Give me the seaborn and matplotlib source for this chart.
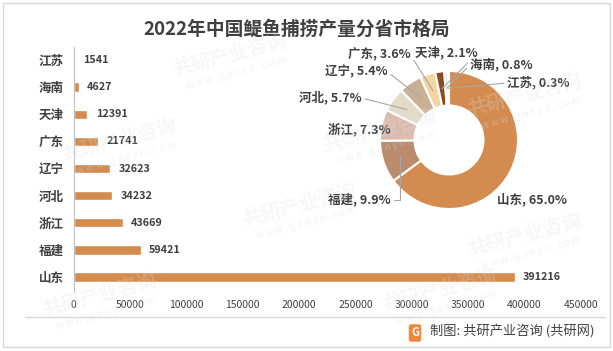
import numpy as np
import pandas as pd
import matplotlib
matplotlib.use('Agg')
import matplotlib.pyplot as plt
import seaborn as sns
from matplotlib.patches import Rectangle
from matplotlib.lines import Line2D

# Data
provinces = ['江苏', '海南', '天津', '广东', '辽宁', '河北', '浙江', '福建', '山东']
output = [1541, 4627, 12391, 21741, 32623, 34232, 43669, 59421, 391216]

# pie is drawn clockwise from the top starting with 山东
pie_names = ['山东', '福建', '浙江', '河北', '辽宁', '广东', '天津', '海南', '江苏']
pie_shares = [65.0, 9.9, 7.3, 5.7, 5.4, 3.6, 2.1, 0.8, 0.3]
pie_colors = ['#D48B4F', '#BA8B6C', '#DBBBAE', '#E4DCC8', '#C8B094',
              '#F6D6A0', '#8C4A21', '#EFE3D3', '#C9A07C']

x_ticks = [0, 50000, 100000, 150000, 200000, 250000, 300000, 350000, 400000, 450000]

sns.set_theme(style='white')
plt.rcParams['font.family'] = ['Noto Sans CJK SC', 'DejaVu Sans']
plt.rcParams['axes.unicode_minus'] = False

text_color = '#404040'
W, H = 613, 351
fig = plt.figure(figsize=(W / 100, H / 100), dpi=100)
fig.patch.set_facecolor('white')


def px(x, y):
    # image pixel (top-left origin) -> figure fraction
    return x / W, 1 - y / H


# --- bar chart ---
ax = fig.add_axes([73.5 / W, 1 - 290.5 / H, (581 - 73.5) / W, (290.5 - 46.5) / H])
df = pd.DataFrame({'province': provinces, 'output': output})
sns.barplot(data=df, x='output', y='province', orient='h', color='#D48B4E',
            width=0.35, saturation=1, ax=ax)
ax.set_xlim(0, 450000)
ax.set_ylim(8.5, -0.5)
ax.set_xticks(x_ticks)
ax.set_xticklabels([str(t) for t in x_ticks], fontsize=7.5, color=text_color)
ax.set_xlabel('')
ax.set_ylabel('')
for lab in ax.get_yticklabels():
    lab.set_fontsize(9)
    lab.set_fontweight('bold')
    lab.set_color(text_color)
ax.tick_params(axis='both', length=0)
ax.tick_params(axis='x', pad=7)
ax.tick_params(axis='y', pad=7)
for side in ['top', 'right', 'bottom']:
    ax.spines[side].set_visible(False)
ax.spines['left'].set_color('#BFBFBF')
ax.spines['left'].set_linewidth(0.8)
ax.patch.set_alpha(0)
for i, v in enumerate(output):
    ax.annotate(str(v), (v, i), xytext=(6, 0), textcoords='offset points',
                va='center', ha='left', fontsize=7.8, fontweight='bold',
                color=text_color)

# --- donut chart ---
cx, cy, r = 449, 140, 69
size = 2.5 * r
pax = fig.add_axes([(cx - size / 2) / W, 1 - (cy + size / 2) / H, size / W, size / H])
wedges, _ = pax.pie(pie_shares, colors=pie_colors, startangle=90, counterclock=False,
                    wedgeprops=dict(width=0.5, edgecolor='white', linewidth=1.5))
pax.set_xlim(-1.25, 1.25)
pax.set_ylim(-1.25, 1.25)
pax.set_aspect('equal')

# label left edge x and center y, in image pixels
label_pos = {
    '山东': (497, 200), '福建': (328, 200), '浙江': (328, 129),
    '河北': (299, 98), '辽宁': (325, 72), '广东': (348, 55),
    '天津': (415, 53), '海南': (470, 65), '江苏': (507, 83),
}
no_line = ['山东', '浙江']
for w, name, share in zip(wedges, pie_names, pie_shares):
    ang = np.deg2rad((w.theta1 + w.theta2) / 2)
    pt = (0.75 * np.cos(ang), 0.75 * np.sin(ang))
    lx, ly = label_pos[name]
    label = f'{name}, {share:.1f}%'
    if name in no_line:
        fig.text(*px(lx, ly), label, ha='left', va='center', fontsize=9,
                 fontweight='bold', color=text_color)
        continue
    side_right = lx > cx
    if name == '福建':
        conn = 'angle,angleA=0,angleB=90,rad=0'
    else:
        conn = 'arc3'
    pax.annotate(label, xy=pt, xycoords='data',
                 xytext=px(lx, ly), textcoords='figure fraction',
                 ha='left', va='center', fontsize=9, fontweight='bold',
                 color=text_color, annotation_clip=False,
                 arrowprops=dict(arrowstyle='-', color='#A6A6A6', lw=0.8,
                                 shrinkA=0, shrinkB=0, connectionstyle=conn,
                                 relpos=(0, 0.5) if side_right else (1, 0.5)))

# --- title ---
fig.text(*px(296.5, 29), '2022年中国鳀鱼捕捞产量分省市格局', ha='center', va='center',
         fontsize=13.5, fontweight='bold', color=text_color)

# --- faint watermarks ---
for wx, wy in [(230, 55), (120, 140), (300, 205), (440, 290), (525, 95),
               (525, 235), (100, 295), (380, 130)]:
    fig.text(*px(wx, wy), '共研产业咨询', ha='center', va='center', fontsize=14,
             fontweight='bold', color='#E0E0E0', alpha=0.25, rotation=15, zorder=10)
    fig.text(*px(wx + 6, wy + 18), 'w w w . g o n y n . c o m', ha='center',
             va='center', fontsize=7, color='#E0E0E0', alpha=0.35, rotation=15, zorder=10)

# --- footer ---
fig.add_artist(Line2D([25 / W, 605 / W], [1 - 317 / H, 1 - 317 / H],
                      color='#D9D9D9', lw=1))
fig.text(*px(415, 333), 'G', ha='center', va='center', fontsize=8, fontweight='bold',
         color='white', bbox=dict(boxstyle='round,pad=0.2', fc='#F0883A', ec='none'))
fig.text(*px(430, 332), '制图: 共研产业咨询 (共研网)', ha='left', va='center',
         fontsize=9.5, color=text_color)

# frame around the whole picture
fig.add_artist(Rectangle((3 / W, 1 - 347 / H), 607 / W, 344 / H, fill=False,
                         ec='#D9D9D9', lw=1, transform=fig.transFigure))

fig.savefig('out.png', dpi=100)
